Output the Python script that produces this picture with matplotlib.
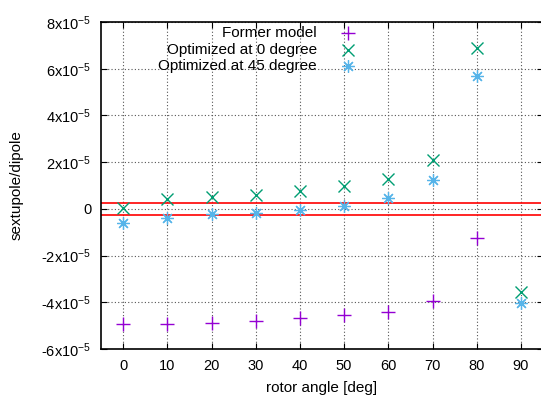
import numpy as np
import matplotlib
matplotlib.use("Agg")
import matplotlib.pyplot as plt

plt.rcParams['font.family'] = ['Liberation Sans', 'DejaVu Sans']
plt.rcParams['mathtext.fontset'] = 'custom'
plt.rcParams['mathtext.rm'] = 'Liberation Sans'
plt.rcParams['mathtext.it'] = 'Liberation Sans'

angles = [0, 10, 20, 30, 40, 50, 60, 70, 80, 90]
former = [-4.94e-5, -4.94e-5, -4.87e-5, -4.80e-5, -4.68e-5, -4.55e-5, -4.40e-5, -3.93e-5, -1.23e-5, np.nan]
opt0 = [0.03e-5, 0.41e-5, 0.50e-5, 0.61e-5, 0.75e-5, 0.97e-5, 1.27e-5, 2.08e-5, 6.89e-5, -3.57e-5]
opt45 = [-0.62e-5, -0.41e-5, -0.24e-5, -0.16e-5, -0.04e-5, 0.11e-5, 0.47e-5, 1.24e-5, 5.68e-5, -4.02e-5]
labels = ["Former model", "Optimized at 0 degree", "Optimized at 45 degree"]
tolerance = 2.5e-6
yticks = [-6e-5, -4e-5, -2e-5, 0, 2e-5, 4e-5, 6e-5, 8e-5]
xticks = angles

def ylab(v):
    if v == 0:
        return "0"
    m = int(round(v / 1e-5))
    return r"%dx10$^{\mathregular{-5}}$" % m

fig = plt.figure(figsize=(5.41, 3.96), dpi=100)
ax = fig.add_axes([101/541, 1 - 349/396, 442/541, 327/396])
ax.set_xlim(-5, 95)
ax.set_ylim(-6e-5, 8e-5)

ax.set_xticks(xticks)
ax.set_yticks(yticks)
ax.set_yticklabels([ylab(v) for v in yticks])
ax.tick_params(direction='in', length=4, width=0.8, top=True, right=True, labelsize=10.5, pad=7)
ax.grid(True, linestyle=(0, (1, 2)), color='#555555', linewidth=0.8)
ax.set_axisbelow(True)
for s in ax.spines.values():
    s.set_linewidth(1.2)

ax.axhline(tolerance, color='#ff0000', lw=1.2)
ax.axhline(-tolerance, color='#ff0000', lw=1.2)

styles = [
    dict(marker='+', color='#9400d3', ms=10, mew=1.0),
    dict(marker='x', color='#009e73', ms=8, mew=1.0),
    dict(marker=(8, 2, 0), color='#56b4e9', ms=9, mew=0.9),
]
for ys, st in zip([former, opt0, opt45], styles):
    ax.plot(angles, ys, linestyle='none', **st)

# gnuplot-style legend: right-aligned text, marker to the right
leg_y = [33, 50, 66]
for lab, st, yp in zip(labels, styles, leg_y):
    fy = 1 - yp / 396
    fig.text(317/541, fy, lab, ha='right', va='center', fontsize=11)
    ax.plot([(348 - 101) / 442], [(349 - yp) / 327], linestyle='none',
            transform=ax.transAxes, clip_on=False, **st)

ax.set_xlabel("rotor angle [deg]", fontsize=11, labelpad=6)
ax.set_ylabel("sextupole/dipole", fontsize=11, labelpad=13)

fig.savefig("out.png", dpi=100)
